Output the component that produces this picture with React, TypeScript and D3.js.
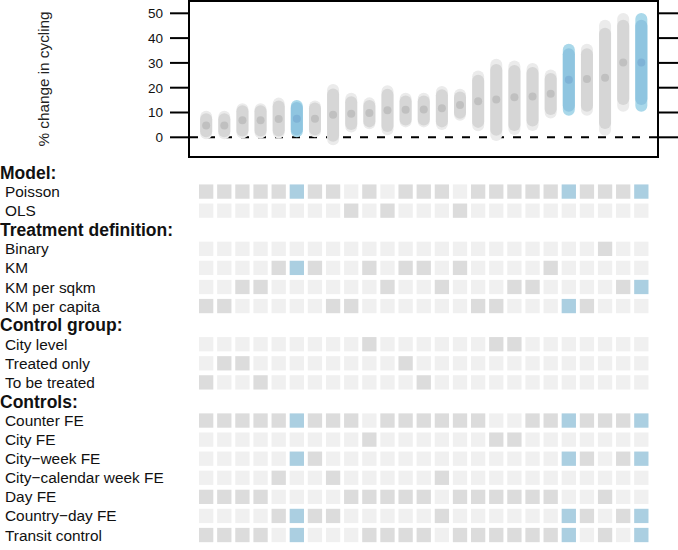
import React from "react";
import * as d3 from "d3";

// ---- Top panel data (% change in cycling), one entry per specification ----
const estimates = [4.8, 4.8, 6.9, 6.9, 7.4, 7.5, 7.5, 9.1, 9.5, 9.8, 10.9, 11.1, 11.2, 11.7, 13.0, 14.5, 15.2, 16.1, 16.5, 17.6, 23.2, 23.5, 24.0, 30.2, 30.2];
const outerLo = [-0.8, -0.8, -0.5, -0.5, -0.5, 0.0, 0.0, -3.2, 1.9, 3.2, 0.8, 4.0, 4.0, 2.9, 6.7, 2.4, -1.5, 0.9, 2.5, 7.6, 8.7, 8.7, 0.6, 10.3, 10.3];
const outerHi = [10.7, 10.7, 13.7, 13.7, 16.0, 15.0, 14.8, 21.5, 18.0, 16.1, 21.0, 18.0, 18.0, 20.7, 19.6, 26.9, 31.7, 31.0, 30.0, 27.3, 37.7, 37.7, 47.4, 50.1, 50.1];
const innerLo = [0.0, 0.0, 0.3, 0.3, 0.3, 0.8, 0.8, -1.8, 2.9, 4.0, 2.1, 4.8, 4.8, 4.0, 7.5, 3.8, 0.6, 2.5, 4.4, 9.0, 10.3, 10.3, 3.3, 13.0, 13.0];
const innerHi = [9.7, 9.7, 12.9, 12.9, 14.8, 14.2, 14.0, 19.7, 16.6, 15.0, 19.6, 16.9, 16.9, 19.4, 18.5, 25.2, 29.6, 29.2, 28.3, 25.9, 35.9, 35.9, 44.2, 47.4, 47.4];
const highlighted = [5, 20, 24];
const yTicks = [0, 10, 20, 30, 40, 50];
const yTitle = "% change in cycling";

// ---- Specification grid: active columns per option ----
const poisson = [0, 1, 2, 3, 4, 5, 6, 7, 9, 11, 12, 13, 15, 16, 17, 18, 19, 20, 21, 22, 23, 24];
const ols = [8, 10, 14];
const binary = [22];
const km = [4, 5, 6, 9, 11, 12, 14, 19];
const kmSqkm = [2, 3, 10, 13, 17, 18, 23, 24];
const kmCapita = [0, 1, 7, 8, 15, 16, 20, 21];
const cityLevel = [9, 16, 17];
const treatedOnly = [1, 2, 11];
const toBeTreated = [0, 3, 12];
const counterFE = [0, 1, 2, 3, 4, 5, 6, 7, 8, 10, 11, 12, 13, 14, 15, 18, 19, 20, 21, 22, 23, 24];
const cityFE = [9, 16, 17];
const cityWeekFE = [5, 6, 20, 21, 23, 24];
const cityCalWeekFE = [4, 7, 13];
const dayFE = [0, 1, 2, 3, 8, 9, 10, 11, 12, 14, 15, 16, 17, 18, 19, 22];
const countryDayFE = [4, 5, 6, 7, 13, 20, 21, 23, 24];
const transitControl = [0, 1, 2, 3, 5, 9, 10, 11, 12, 14, 15, 16, 17, 18, 19, 20, 22, 24];

type Row = { label: string; header?: boolean; active?: number[] };
const rows: Row[] = [
  { label: "Model:", header: true },
  { label: "Poisson", active: poisson },
  { label: "OLS", active: ols },
  { label: "Treatment definition:", header: true },
  { label: "Binary", active: binary },
  { label: "KM", active: km },
  { label: "KM per sqkm", active: kmSqkm },
  { label: "KM per capita", active: kmCapita },
  { label: "Control group:", header: true },
  { label: "City level", active: cityLevel },
  { label: "Treated only", active: treatedOnly },
  { label: "To be treated", active: toBeTreated },
  { label: "Controls:", header: true },
  { label: "Counter FE", active: counterFE },
  { label: "City FE", active: cityFE },
  { label: "City\u2212week FE", active: cityWeekFE },
  { label: "City\u2212calendar week FE", active: cityCalWeekFE },
  { label: "Day FE", active: dayFE },
  { label: "Country\u2212day FE", active: countryDayFE },
  { label: "Transit control", active: transitControl },
];

const W = 678;
const H = 550;
const FONT = "'Liberation Sans', Arial, Helvetica, sans-serif";

export default function App() {
  const n = estimates.length;
  const cols = d3.range(n);
  const x = d3.scaleBand<number>().domain(cols).range([197.1, 650.4]).padding(0);
  const cx = (i: number) => (x(i) as number) + x.bandwidth() / 2;
  const y = d3.scaleLinear().domain([0, 50]).range([137.3, 13.3]);
  const rowScale = d3.scaleBand<number>().domain(d3.range(rows.length)).range([162.96, 162.96 + 19.08 * rows.length]);
  const ry = (r: number) => (rowScale(r) as number) + rowScale.bandwidth() / 2;

  const frame = { x0: 189, x1: 658, y0: 1, y1: 157 };
  const barW = 12;
  const sq = 14.3;

  return (
    <svg width={W} height={H} style={{ position: "absolute", left: 0, top: 0, display: "block" }} fontFamily={FONT}>
      <rect x={0} y={0} width={W} height={H} fill="#fff" />
      {/* y-axis title */}
      <text transform={`translate(49,${(frame.y0 + frame.y1) / 2}) rotate(-90)`} textAnchor="middle" fontSize={15.3} fill="#222">
        {yTitle}
      </text>
      {/* ticks both sides */}
      {yTicks.map((t) => (
        <g key={t}>
          <line x1={170} x2={frame.x0} y1={y(t)} y2={y(t)} stroke="#000" strokeWidth={2} />
          <line x1={frame.x1} x2={W} y1={y(t)} y2={y(t)} stroke="#000" strokeWidth={2} />
          <text x={163} y={y(t)} dy="0.36em" textAnchor="end" fontSize={13.5} fill="#111">
            {t}
          </text>
        </g>
      ))}
      {/* zero reference line */}
      <line x1={frame.x0} x2={frame.x1} y1={y(0)} y2={y(0)} stroke="#000" strokeWidth={2} strokeDasharray="8,9" strokeDashoffset={-1} />
      {/* intervals */}
      {cols.map((i) => {
        const hl = highlighted.includes(i);
        return (
          <g key={i}>
            <rect x={cx(i) - barW / 2} y={y(outerHi[i])} width={barW} height={y(outerLo[i]) - y(outerHi[i])} rx={barW / 2} fill={hl ? "#a9d8ea" : "#ebebeb"} />
            <rect x={cx(i) - barW / 2} y={y(innerHi[i])} width={barW} height={y(innerLo[i]) - y(innerHi[i])} rx={barW / 2} fill={hl ? "#8fc5e0" : "#d6d6d6"} />
            <circle cx={cx(i)} cy={y(estimates[i])} r={4} fill={hl ? "#7fb3d6" : "#c0c0c0"} />
          </g>
        );
      })}
      {/* frame */}
      <rect x={frame.x0} y={frame.y0} width={frame.x1 - frame.x0} height={frame.y1 - frame.y0} fill="none" stroke="#000" strokeWidth={2} />

      {/* specification grid */}
      {rows.map((row, r) => (
        <g key={r}>
          <text x={row.header ? 0 : 5} y={ry(r)} dy="0.36em" fontSize={row.header ? 17.5 : 15.4} fontWeight={row.header ? "bold" : "normal"} fill="#111">
            {row.label}
          </text>
          {!row.header &&
            cols.map((i) => {
              const on = row.active!.includes(i);
              const hl = highlighted.includes(i);
              const fill = on ? (hl ? "#abcfe1" : "#dcdcdc") : "#f0f0f0";
              return <rect key={i} x={cx(i) - sq / 2} y={ry(r) - sq / 2} width={sq} height={sq} fill={fill} />;
            })}
        </g>
      ))}
    </svg>
  );
}
